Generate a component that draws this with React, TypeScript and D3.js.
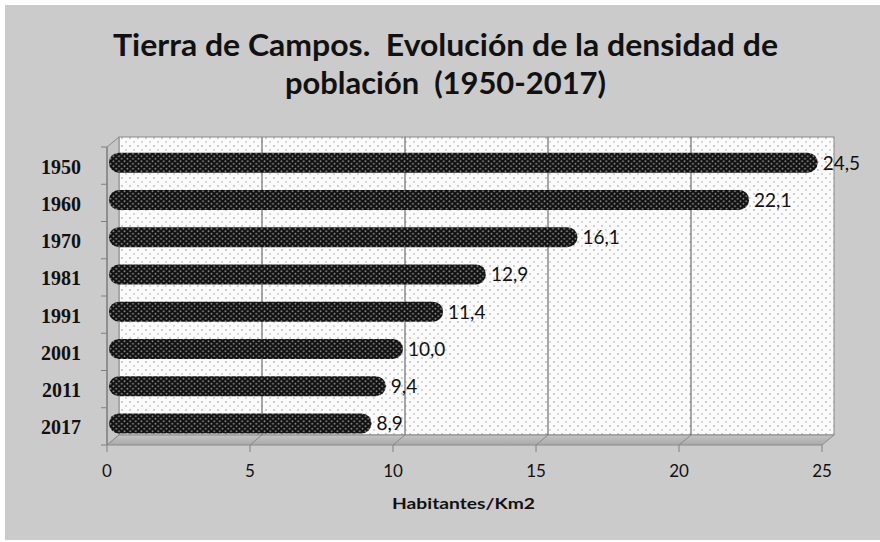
import React from "react";
import * as d3 from "d3";

// Tierra de Campos - population density by year
const years = ["1950", "1960", "1970", "1981", "1991", "2001", "2011", "2017"];
const density = [24.5, 22.1, 16.1, 12.9, 11.4, 10.0, 9.4, 8.9];
const xTicks = [0, 5, 10, 15, 20, 25];

const titleLines = [
  "Tierra de Campos.  Evolución de la densidad de",
  "población  (1950-2017)",
];
const titleWidths = [665, 321];

const W = 880;
const H = 542;
// 3D depth offset
const DX = 12;
const DY = -10;

const fmt = (v: number) => v.toFixed(1).replace(".", ",");

export default function App() {
  const x = d3.scaleLinear().domain([0, 25]).range([107, 822]);
  const y = d3.scaleBand().domain(years).range([147, 445]).padding(0);

  const top = 147;
  const bottom = 445;
  const barH = 20;

  return (
    <svg
      width={W}
      height={H}
      style={{ position: "absolute", left: 0, top: 0 }}
      fontFamily="Lato, 'Open Sans', sans-serif"
    >
      <defs>
        <pattern id="wallDots" width="8" height="8" patternUnits="userSpaceOnUse">
          <rect width="8" height="8" fill="#fbfbfb" />
          <circle cx="2" cy="2" r="0.9" fill="#b8b8b8" />
          <circle cx="6" cy="6" r="0.9" fill="#c8c8c8" />
        </pattern>
        <pattern id="barDots" width="5.6" height="5" patternUnits="userSpaceOnUse">
          <rect width="5.6" height="5" fill="#111" />
          <circle cx="1.4" cy="1.25" r="0.9" fill="#8a8a8a" />
          <circle cx="4.2" cy="3.75" r="0.9" fill="#8a8a8a" />
        </pattern>
        <linearGradient id="floorGrad" x1="0" y1="0" x2="0" y2="1">
          <stop offset="0" stopColor="#c4c4c4" />
          <stop offset="1" stopColor="#a9a9a9" />
        </linearGradient>
      </defs>

      {/* outer background */}
      <rect width={W} height={H} fill="#ffffff" />
      <rect x={5} y={5} width={W - 5} height={H - 7} fill="#cbcbcb" />

      {/* title */}
      {titleLines.map((t, i) => (
        <text
          key={t}
          x={445.5}
          y={56 + i * 38}
          textAnchor="middle"
          fontSize="30"
          fontWeight="bold"
          fill="#111"
          textLength={titleWidths[i]}
          lengthAdjust="spacingAndGlyphs"
          style={{ whiteSpace: "pre" }}
        >
          {t}
        </text>
      ))}

      {/* back wall */}
      <rect
        x={x(0) + DX}
        y={top + DY}
        width={x(25) - x(0)}
        height={bottom - top}
        fill="url(#wallDots)"
        stroke="#8a8a8a"
        strokeWidth="1"
      />
      {/* side wall */}
      <path
        d={`M${x(0)},${top} L${x(0) + DX},${top + DY} L${x(0) + DX},${bottom + DY} L${x(0)},${bottom} Z`}
        fill="#c6c6c6"
        stroke="#8a8a8a"
      />
      {/* floor */}
      <path
        d={`M${x(0)},${bottom} L${x(25)},${bottom} L${x(25) + DX},${bottom + DY} L${x(0) + DX},${bottom + DY} Z`}
        fill="url(#floorGrad)"
        stroke="#8a8a8a"
      />

      {/* grid lines on back wall */}
      {xTicks.slice(1, -1).map((t) => (
        <g key={`g${t}`}>
          <line
            x1={x(t) + DX}
            x2={x(t) + DX}
            y1={top + DY}
            y2={bottom + DY}
            stroke="#6e6e6e"
            strokeWidth="1.2"
          />
          <line
            x1={x(t)}
            x2={x(t) + DX}
            y1={bottom}
            y2={bottom + DY}
            stroke="#8a8a8a"
          />
        </g>
      ))}

      {/* y axis */}
      <line x1={x(0)} x2={x(0)} y1={top} y2={bottom} stroke="#808080" strokeWidth="1.3" />
      {years.map((yr) => (
        <line
          key={`yt${yr}`}
          x1={x(0) - 6}
          x2={x(0)}
          y1={y(yr)!}
          y2={y(yr)!}
          stroke="#808080"
        />
      ))}
      <line x1={x(0) - 6} x2={x(0)} y1={bottom} y2={bottom} stroke="#808080" />

      {/* x axis ticks and labels */}
      {xTicks.map((t) => (
        <g key={`xt${t}`}>
          <line x1={x(t)} x2={x(t)} y1={bottom} y2={bottom + 7} stroke="#808080" />
          <text
            x={x(t)}
            y={477}
            textAnchor="middle"
            fontSize="17"
            fill="#111"
          >
            {t}
          </text>
        </g>
      ))}
      <text
        x={463.5}
        y={509}
        textAnchor="middle"
        fontSize="16"
        fontWeight="bold"
        fill="#111"
        textLength={143}
        lengthAdjust="spacingAndGlyphs"
      >
        Habitantes/Km2
      </text>

      {/* bars */}
      {years.map((yr, i) => {
        const cy = y(yr)! + y.bandwidth() / 2 - 3;
        const x0 = x(0) + 2;
        const x1 = x(density[i]) + 10;
        return (
          <g key={`b${yr}`}>
            <rect
              x={x0}
              y={cy - barH / 2}
              width={x1 - x0}
              height={barH}
              rx={barH / 2}
              ry={barH / 2}
              fill="url(#barDots)"
            />
            <text x={x1 + 5} y={cy + 7} fontSize="19" fill="#111">
              {fmt(density[i])}
            </text>
            <text
              x={81}
              y={y(yr)! + y.bandwidth() / 2 + 8}
              textAnchor="end"
              fontSize="20"
              fontWeight="bold"
              fontFamily="'Liberation Serif', 'DejaVu Serif', serif"
              fill="#111"
            >
              {yr}
            </text>
          </g>
        );
      })}
    </svg>
  );
}
